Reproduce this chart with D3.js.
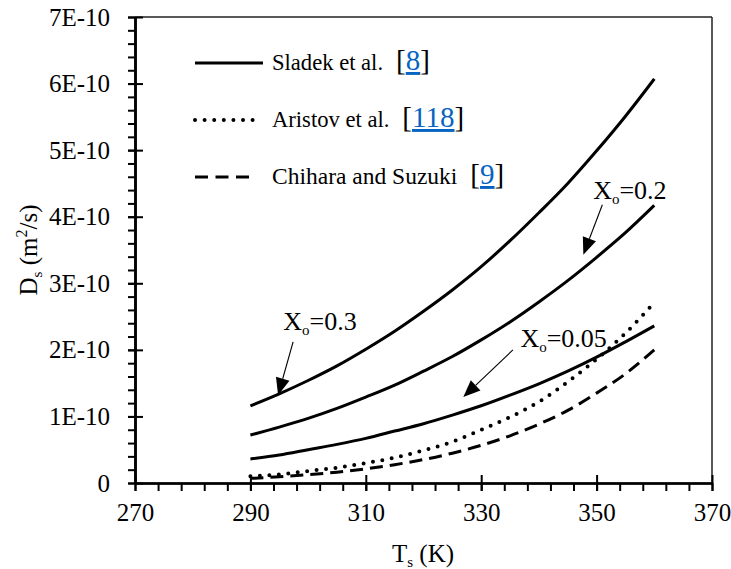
<!DOCTYPE html>
<html>
<head>
<meta charset="utf-8">
<script src="https://cdn.jsdelivr.net/npm/d3@7"></script>
<style>
  html, body { margin: 0; padding: 0; background: #fff; }
  svg { display: block; font-family: "Liberation Serif", "Times New Roman", serif; }
</style>
</head>
<body>
<svg id="chart" width="731" height="569"></svg>
<script>
// Temperature grid (K)
const temps = [290, 295, 300, 305, 310, 315, 320, 325, 330, 335, 340, 345, 350, 355, 360];

// Surface diffusivity, in units of 1E-10 m2/s
const sladek03  = [1.16, 1.34, 1.54, 1.76, 2.01, 2.28, 2.58, 2.90, 3.25, 3.64, 4.06, 4.50, 4.99, 5.51, 6.07];
const sladek02  = [0.72, 0.84, 0.97, 1.12, 1.29, 1.47, 1.68, 1.90, 2.15, 2.42, 2.72, 3.04, 3.39, 3.76, 4.17];
const sladek005 = [0.36, 0.42, 0.50, 0.58, 0.67, 0.78, 0.89, 1.02, 1.16, 1.32, 1.49, 1.68, 1.89, 2.12, 2.36];
const aristov   = [0.10, 0.13, 0.18, 0.23, 0.30, 0.38, 0.49, 0.62, 0.80, 0.99, 1.22, 1.52, 1.86, 2.25, 2.71];
const chihara   = [0.07, 0.094, 0.124, 0.163, 0.213, 0.275, 0.352, 0.448, 0.566, 0.709, 0.884, 1.09, 1.35, 1.64, 2.00];

// Axis ticks
const xTicks = [270, 290, 310, 330, 350, 370];
const yTicks = [0, 1, 2, 3, 4, 5, 6, 7];
const yTickLabels = ["0", "1E-10", "2E-10", "3E-10", "4E-10", "5E-10", "6E-10", "7E-10"];

// Legend entries
const legendNames = ["Sladek et al.", "Aristov et al.", "Chihara and Suzuki"];
const legendRefs = ["8", "118", "9"];

// Curve annotations: [label suffix, text anchor T, text anchor D, arrow start T, D, arrow tip T, D]
const annotations = [
  ["=0.3",  295.7, 2.30, 297.4, 2.12, 294.8, 1.32],
  ["=0.2",  349.4, 4.26, 351.0, 4.18, 347.7, 3.43],
  ["=0.05", 336.8, 2.05, 335.5, 2.00, 326.9, 1.29]
];

const svg = d3.select("#chart");
const plotL = 135, plotR = 712, plotT = 17, plotB = 483;
const serif = '"Liberation Serif", "Times New Roman", serif';

const x = d3.scaleLinear().domain([270, 370]).range([plotL, plotR]);
const y = d3.scaleLinear().domain([0, 7]).range([plotB, plotT]);

const fontAxis = 25;

// Frame: top and right edges
svg.append("line").attr("x1", plotL).attr("x2", plotR).attr("y1", plotT).attr("y2", plotT)
  .attr("stroke", "#222").attr("stroke-width", 1.5);
svg.append("line").attr("x1", plotR).attr("x2", plotR).attr("y1", plotT).attr("y2", plotB)
  .attr("stroke", "#222").attr("stroke-width", 1.5);

// Y axis: minor ticks outside, major ticks crossing the axis
const yMinor = d3.range(0, 7.0001, 0.2);
const gyMinor = svg.append("g").attr("transform", `translate(${plotL},0)`)
  .call(d3.axisLeft(y).tickValues(yMinor).tickSize(7).tickSizeOuter(0).tickFormat(""));
const gyIn = svg.append("g").attr("transform", `translate(${plotL},0)`)
  .call(d3.axisRight(y).tickValues(yTicks).tickSize(8).tickSizeOuter(0).tickFormat(""));
const gy = svg.append("g").attr("transform", `translate(${plotL},0)`)
  .call(d3.axisLeft(y).tickValues(yTicks).tickSize(7).tickSizeOuter(0).tickPadding(18)
    .tickFormat((d, i) => yTickLabels[i]));

// X axis
const xMinor = d3.range(270, 370.0001, 4);
const gxMinor = svg.append("g").attr("transform", `translate(0,${plotB})`)
  .call(d3.axisBottom(x).tickValues(xMinor).tickSize(8).tickSizeOuter(0).tickFormat(""));
const gxIn = svg.append("g").attr("transform", `translate(0,${plotB})`)
  .call(d3.axisTop(x).tickValues(xTicks).tickSize(8).tickSizeOuter(0).tickFormat(""));
const gx = svg.append("g").attr("transform", `translate(0,${plotB})`)
  .call(d3.axisBottom(x).tickValues(xTicks).tickSize(8).tickSizeOuter(0).tickPadding(12));

[gyMinor, gyIn, gy, gxMinor, gxIn, gx].forEach(g => {
  g.attr("font-family", serif).attr("font-size", fontAxis);
  g.selectAll("path.domain").attr("stroke", "#000").attr("stroke-width", 2.2);
  g.selectAll(".tick line").attr("stroke", "#000").attr("stroke-width", 2);
  g.selectAll(".tick text").attr("fill", "#000");
});
gx.selectAll(".tick text").attr("dy", "0.71em");

// Axis titles
const xt = svg.append("text").attr("x", 423).attr("y", 562).attr("text-anchor", "middle")
  .style("font-size", fontAxis + "px");
xt.append("tspan").text("T");
xt.append("tspan").attr("dy", 5).style("font-size", "15px").text("s");
xt.append("tspan").attr("dy", -5).text(" (K)");

const yt = svg.append("text").attr("transform", "translate(37,250) rotate(-90)")
  .attr("text-anchor", "middle").style("font-size", fontAxis + "px");
yt.append("tspan").text("D");
yt.append("tspan").attr("dy", 5).style("font-size", "15px").text("s");
yt.append("tspan").attr("dy", -5).text(" (m");
yt.append("tspan").attr("dy", -10).style("font-size", "16px").text("2");
yt.append("tspan").attr("dy", 10).text("/s)");

// Series
const series = [
  { values: sladek03,  dash: null, cap: "butt", w: 3 },
  { values: sladek02,  dash: null, cap: "butt", w: 3 },
  { values: sladek005, dash: null, cap: "butt", w: 3 },
  { values: aristov,   dash: "0 9.5", cap: "round", w: 4 },
  { values: chihara,   dash: "13 7", cap: "butt", w: 3 }
];

const line = d3.line()
  .x(d => x(d[0]))
  .y(d => y(d[1]))
  .curve(d3.curveMonotoneX);

series.forEach(s => {
  svg.append("path")
    .datum(temps.map((t, i) => [t, s.values[i]]))
    .attr("d", line)
    .attr("fill", "none")
    .attr("stroke", "#000")
    .attr("stroke-width", s.w)
    .attr("stroke-linecap", s.cap)
    .attr("stroke-dasharray", s.dash);
});

// Legend
const legendStyles = [
  { dash: null, cap: "butt", w: 3, len: 68 },
  { dash: "0 9.6", cap: "round", w: 4, len: 60 },
  { dash: "13 7.5", cap: "butt", w: 3, len: 58 }
];
const legendY = [63, 120, 177];
const legendFont = [22.6, 22.6, 23.5];
legendNames.forEach((name, i) => {
  const st = legendStyles[i];
  svg.append("line")
    .attr("x1", 195).attr("x2", 195 + st.len)
    .attr("y1", legendY[i]).attr("y2", legendY[i])
    .attr("stroke", "#000").attr("stroke-width", st.w)
    .attr("stroke-linecap", st.cap).attr("stroke-dasharray", st.dash);
  const t = svg.append("text").attr("x", 272).attr("y", legendY[i] + 7)
    .style("font-size", legendFont[i] + "px");
  t.append("tspan").text(name);
  t.append("tspan").attr("dx", 13).style("font-size", "29px").text("[");
  t.append("tspan").style("font-size", "29px").attr("fill", "#0563C1")
    .style("text-decoration", "underline").text(legendRefs[i]);
  t.append("tspan").style("font-size", "29px").text("]");
});

// Annotations with arrows
annotations.forEach(a => {
  const [lab, tx, ty, sx, sy, ex, ey] = a;
  const t = svg.append("text").attr("x", x(tx)).attr("y", y(ty)).style("font-size", "26px");
  t.append("tspan").text("X");
  t.append("tspan").attr("dy", 5).style("font-size", "15px").text("o");
  t.append("tspan").attr("dy", -5).text(lab);

  const x1 = x(sx), y1 = y(sy), x2 = x(ex), y2 = y(ey);
  const ang = Math.atan2(y2 - y1, x2 - x1);
  const headLen = 17, headHalf = 7;
  const bx = x2 - headLen * Math.cos(ang), by = y2 - headLen * Math.sin(ang);
  svg.append("line").attr("x1", x1).attr("y1", y1).attr("x2", bx).attr("y2", by)
    .attr("stroke", "#000").attr("stroke-width", 1.1);
  const px = -Math.sin(ang) * headHalf, py = Math.cos(ang) * headHalf;
  svg.append("path")
    .attr("d", `M${x2},${y2}L${bx + px},${by + py}L${bx - px},${by - py}Z`)
    .attr("fill", "#000");
});
</script>
</body>
</html>
